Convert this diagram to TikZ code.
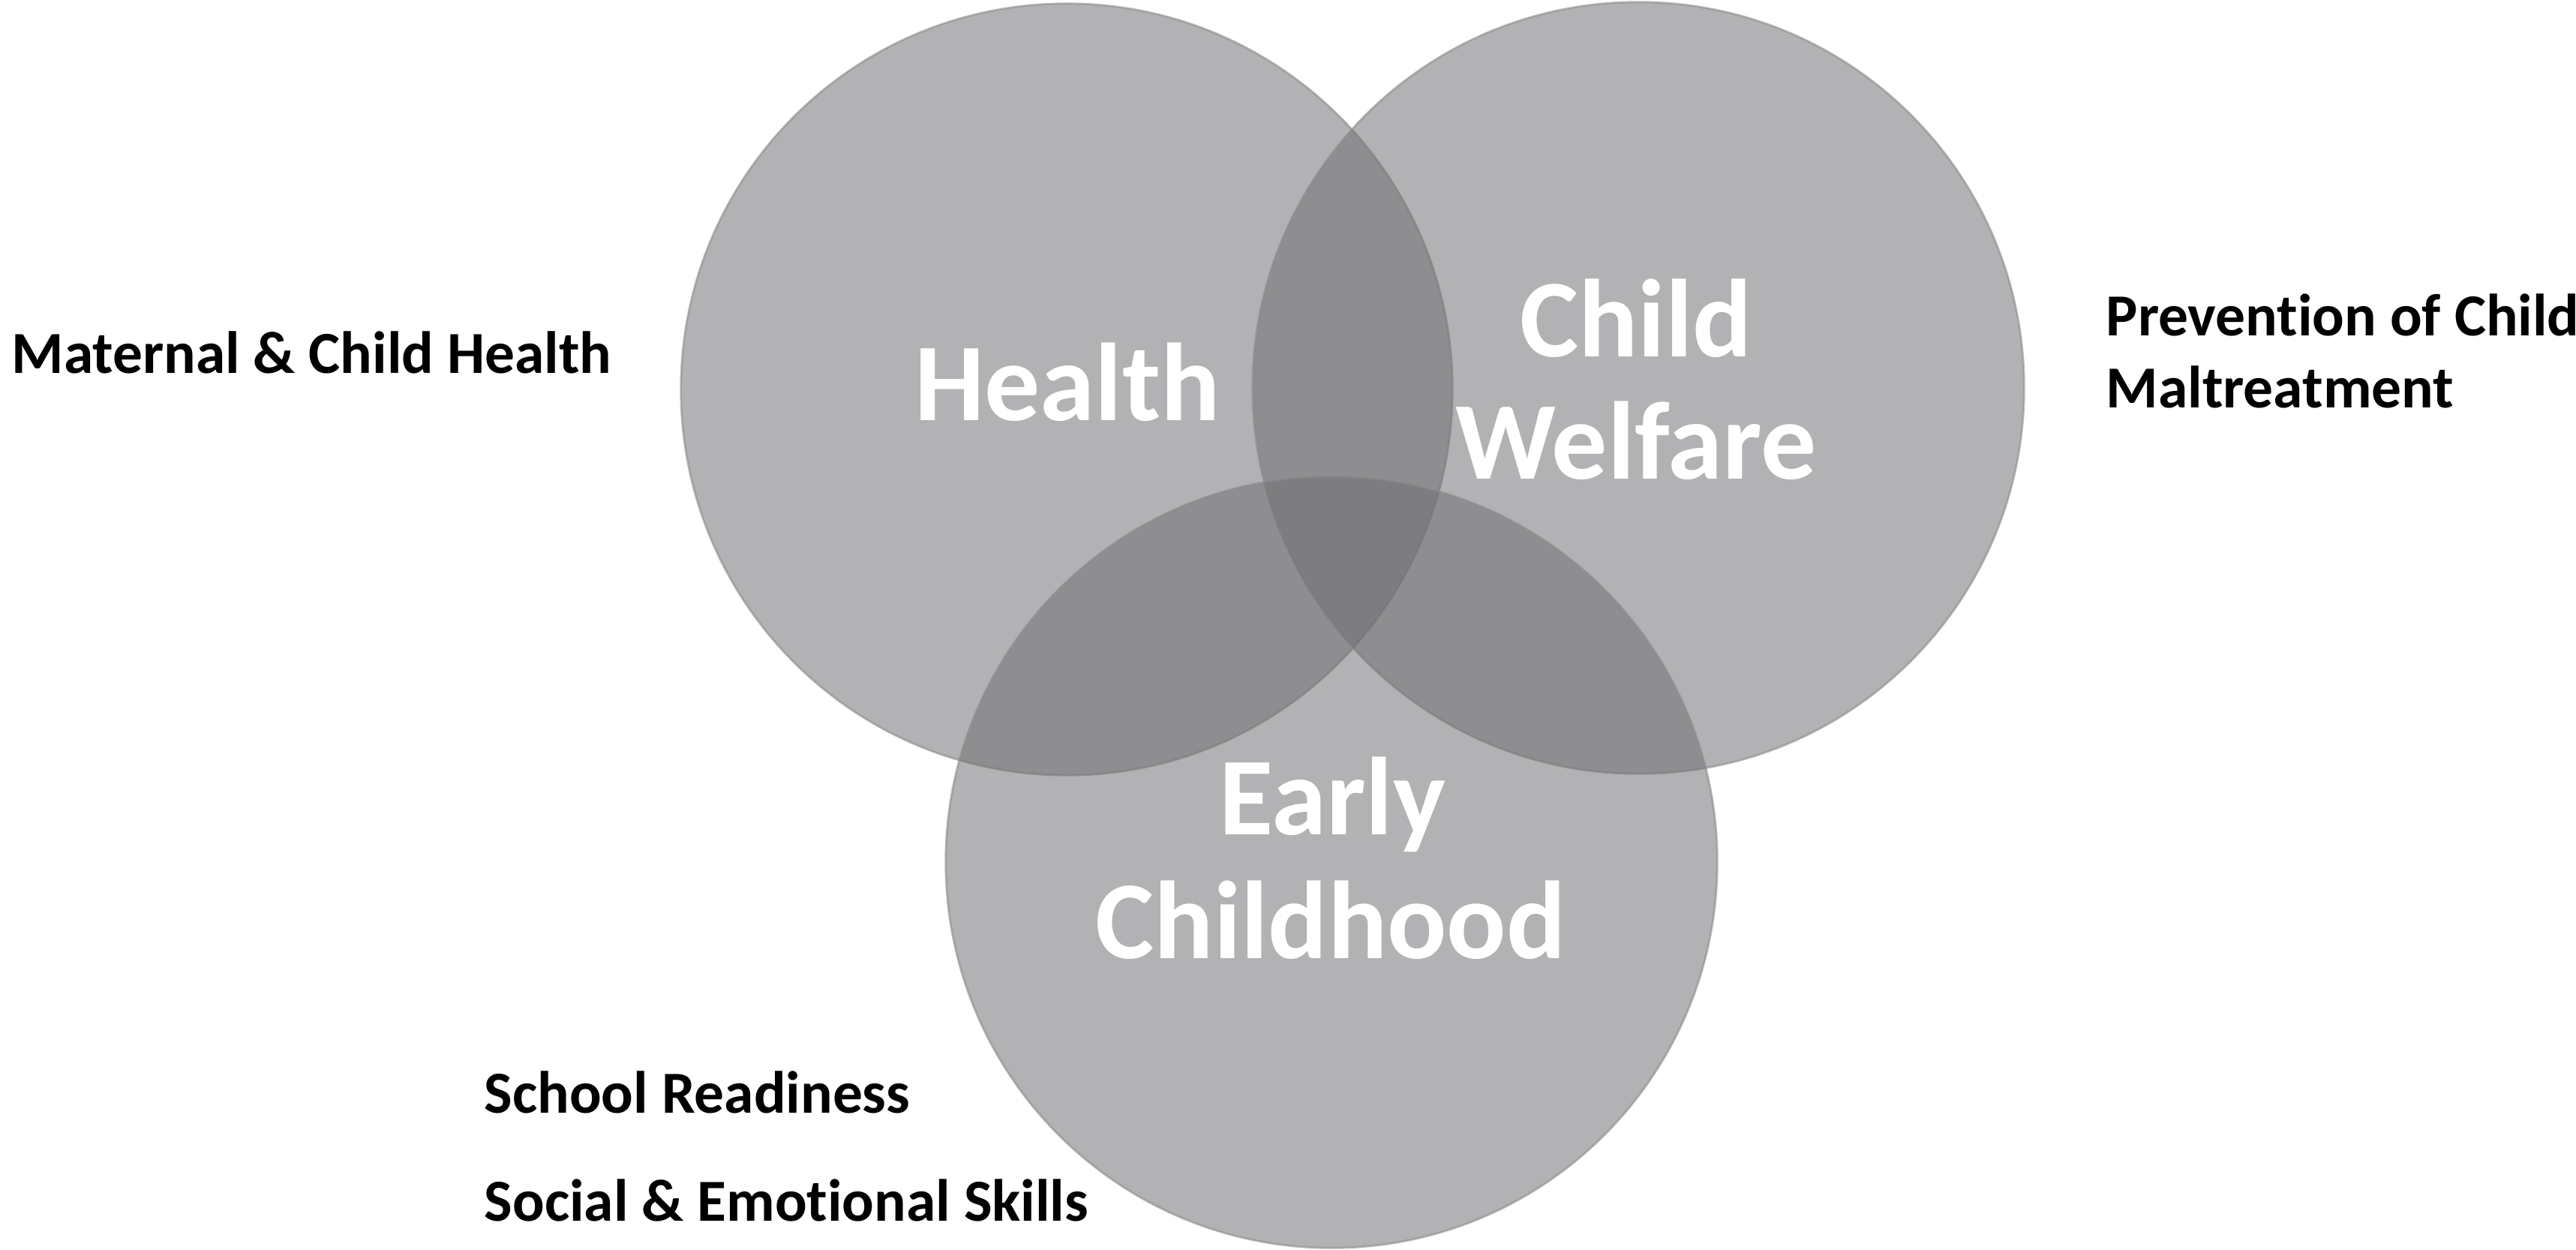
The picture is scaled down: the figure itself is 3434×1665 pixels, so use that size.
\documentclass[tikz,border=0pt]{standalone}
\usepackage{fontspec}
\setmainfont{Carlito}[Ligatures={NoCommon}]
\definecolor{vfill}{RGB}{111,111,114}
\definecolor{vline}{RGB}{140,140,142}
\tikzset{
  venn/.style={circle, minimum size=10.28cm, inner sep=0, fill=vfill, fill opacity=0.53, draw=vline, draw opacity=0.6, line width=0.8pt},
  bigtxt/.style={inner sep=0, text=white, font=\fontsize{42}{50}\selectfont\bfseries, anchor=base},
  lbl/.style={inner sep=0, text=black, font=\fontsize{22.6}{28}\selectfont\bfseries, anchor=base west}
}
\begin{document}
\begin{tikzpicture}[x=0.01cm, y=-0.01cm]
\useasboundingbox (0,0) rectangle (3434,1665);
\fill[white] (0,0) rectangle (3434,1665);
\node[venn] (health) at (1422,519) {};
\node[venn] (welfare) at (2184,517) {};
\node[venn] (early) at (1775,1149) {};
\node[bigtxt] (thealth) at (1423,560) {Health};
\node[bigtxt] (tchild) at (2181,475) {Child};
\node[bigtxt] (twelfare) at (2181,638) {Welfare};
\node[bigtxt] (tearly) at (1776,1112) {Early};
\node[bigtxt] (tchildhood) at (1774,1277) {Childhood};
\node[lbl] (mch) at (15,497) {Maternal \& Child Health};
\node[lbl] (prev1) at (2807,447) {Prevention of Child};
\node[lbl] (prev2) at (2807,543) {Maltreatment};
\node[lbl] (school) at (645,1483) {School Readiness};
\node[lbl] (social) at (645,1627) {Social \& Emotional Skills};
\end{tikzpicture}
\end{document}
